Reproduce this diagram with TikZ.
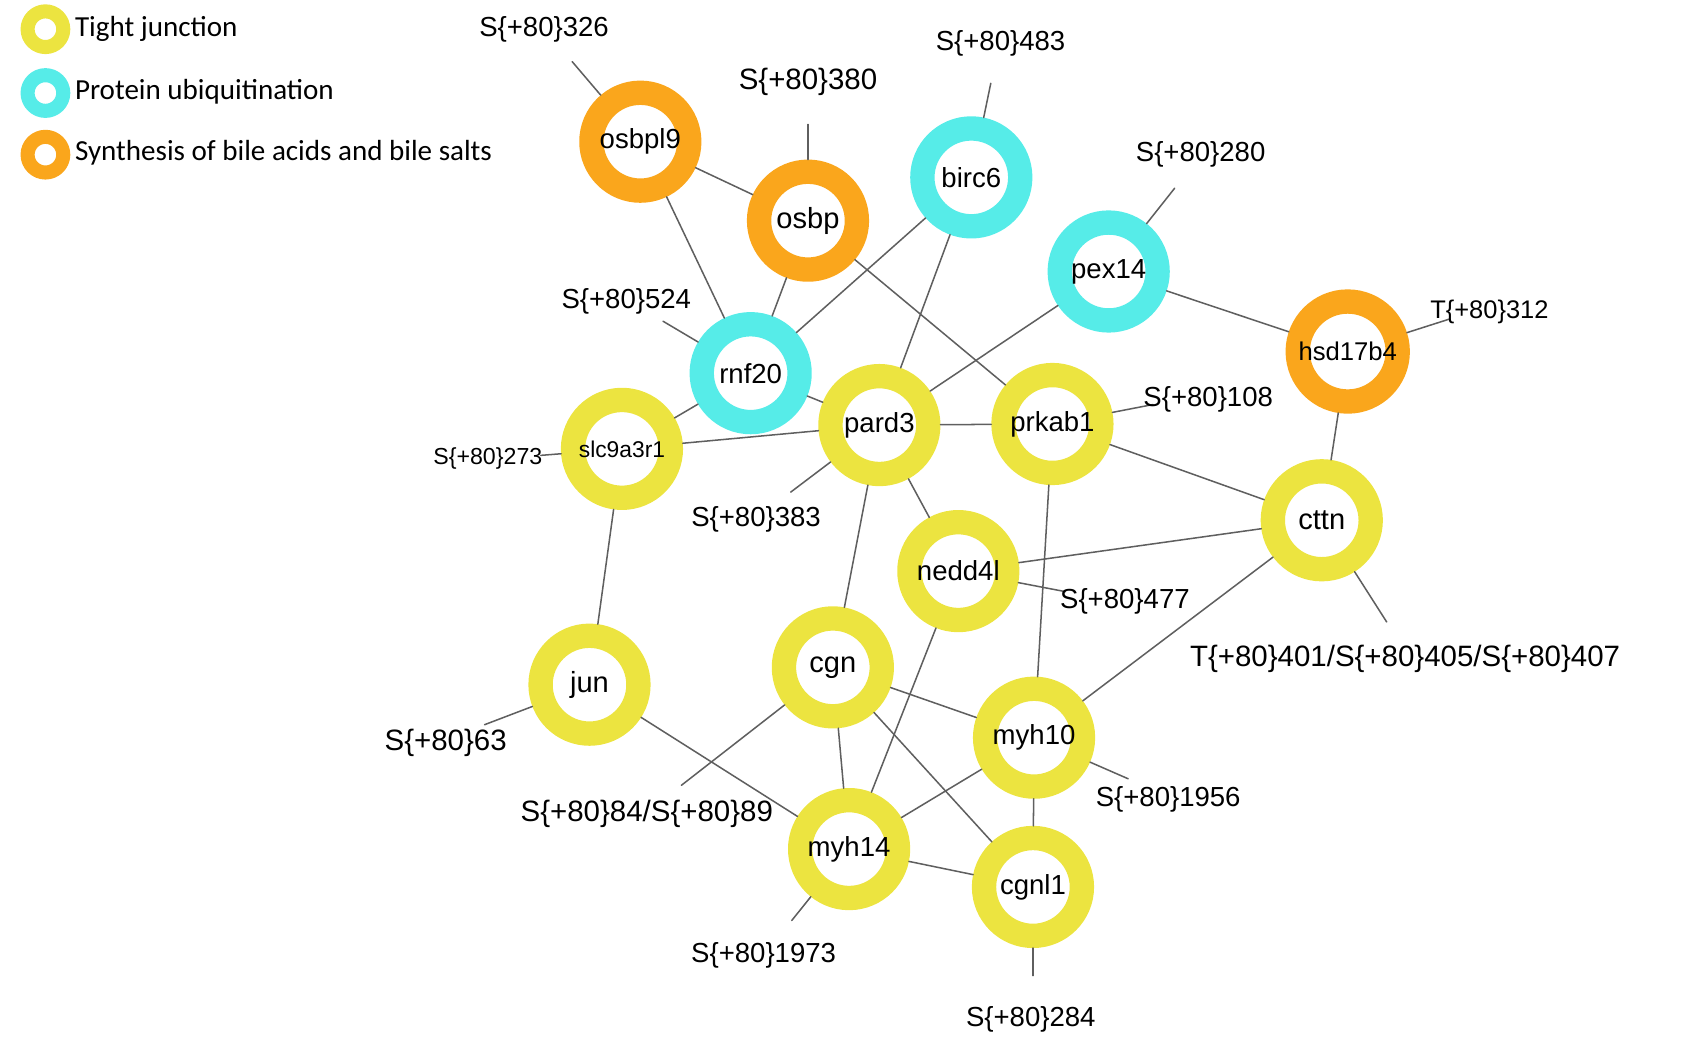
\documentclass[tikz,border=0pt]{standalone}
\usepackage{fontspec}
\setmainfont{Liberation Sans}
\newfontfamily\legfont{Carlito}
\definecolor{tjyellow}{RGB}{236,228,64}
\definecolor{ubcyan}{RGB}{86,236,232}
\definecolor{bileorange}{RGB}{250,166,28}
\definecolor{edgegray}{RGB}{95,95,95}
\begin{document}
\begin{tikzpicture}[x=0.02cm,y=-0.02cm,line join=round,line cap=round]
	%%%%%%%%%STYLES
	\tikzset{
		ring/.style={circle,draw=#1,fill=white,line width=0.45cm,minimum size=1.81cm,inner sep=0pt,font=\fontsize{14.5}{14.5}\selectfont},
		lring/.style={circle,draw=#1,fill=white,line width=0.26cm,minimum size=0.66cm,inner sep=0pt},
		lnk/.style={edgegray,line width=0.8pt},
		site/.style={inner sep=0pt,font=\fontsize{14.5}{14.5}\selectfont},
		sitebig/.style={inner sep=0pt,font=\fontsize{15.5}{15.5}\selectfont},
		sitemid/.style={inner sep=0pt,font=\fontsize{13.4}{13.4}\selectfont},
		sitesmall/.style={inner sep=0pt,font=\fontsize{12.2}{12.2}\selectfont},
		legtxt/.style={anchor=west,inner sep=0pt,font=\legfont\fontsize{15.3}{15.3}\selectfont}
	}
	\useasboundingbox(0,0)rectangle(1568,966);
	%%%%%%%%%LEGEND
	\node[lring=tjyellow](kTJ)at(42,27){};
	\node[lring=ubcyan](kUB)at(42,86){};
	\node[lring=bileorange](kBA)at(42,143){};
	\node[legtxt](tTJ)at(69,27){Tight junction};
	\node[legtxt](tUB)at(69,85){Protein ubiquitination};
	\node[legtxt](tBA)at(69,141){Synthesis of bile acids and bile salts};
	%%%%%%%%%GENES
	\node[ring=bileorange](osbpl9)at(592,131){osbpl9};
	\node[ring=bileorange,font=\fontsize{15.3}{15.3}\selectfont](osbp)at(747,204){osbp};
	\node[ring=ubcyan](birc6)at(898,164){birc6};
	\node[ring=ubcyan](pex14)at(1025,251){pex14};
	\node[ring=bileorange,font=\fontsize{13.5}{13.5}\selectfont](hsd17b4)at(1246,325){hsd17b4};
	\node[ring=ubcyan](rnf20)at(694,345){rnf20};
	\node[ring=tjyellow,font=\fontsize{12}{12}\selectfont](slc9a3r1)at(575,415){slc9a3r1};
	\node[ring=tjyellow](pard3)at(813,393){pard3};
	\node[ring=tjyellow](prkab1)at(973,392){prkab1};
	\node[ring=tjyellow,font=\fontsize{15.3}{15.3}\selectfont](cttn)at(1222,481){cttn};
	\node[ring=tjyellow](nedd4l)at(886,528){nedd4l};
	\node[ring=tjyellow,font=\fontsize{15.3}{15.3}\selectfont](jun)at(545,633){jun};
	\node[ring=tjyellow,font=\fontsize{15.3}{15.3}\selectfont](cgn)at(770,617){cgn};
	\node[ring=tjyellow](myh10)at(956,682){myh10};
	\node[ring=tjyellow](myh14)at(785,785){myh14};
	\node[ring=tjyellow](cgnl1)at(955,820){cgnl1};
	%%%%%%%%%INTERACTIONS
	\foreach \a/\b in{osbpl9/osbp,osbpl9/rnf20,osbp/rnf20,osbp/prkab1,birc6/rnf20,birc6/pard3,pex14/pard3,pex14/hsd17b4,hsd17b4/cttn,rnf20/slc9a3r1,rnf20/pard3,slc9a3r1/pard3,slc9a3r1/jun,pard3/prkab1,pard3/nedd4l,pard3/cgn,prkab1/cttn,prkab1/myh10,nedd4l/cttn,cttn/myh10,nedd4l/myh14,jun/myh14,cgn/myh10,cgn/myh14,cgn/cgnl1,myh10/myh14,myh10/cgnl1,myh14/cgnl1}
	\draw[lnk](\a)--(\b);
	%%%%%%%%%SITES
	\foreach \g/\s/\x/\y in{osbpl9/326/529/57,osbp/380/747/115,birc6/483/916/77,pex14/280/1086/174,hsd17b4/312/1340/295,rnf20/524/613/297,slc9a3r1/273/500/421,pard3/383/731/455,prkab1/108/1066/374,cttn/401/1282/575,nedd4l/477/985/547,jun/63/448/670,cgn/84/630/726,myh10/1956/1043/720,myh14/1973/732/851,cgnl1/284/955/902}{
		\coordinate(s\s)at(\x,\y);
		\draw[lnk](\g)--(s\s);
	}
	\node[site](l326)at(503,27){S\{+80\}326};
	\node[sitebig](l380)at(747,76){S\{+80\}380};
	\node[site](l483)at(925,40){S\{+80\}483};
	\node[site](l280)at(1110,143){S\{+80\}280};
	\node[sitemid](l312)at(1377,288){T\{+80\}312};
	\node[site](l524)at(579,279){S\{+80\}524};
	\node[sitesmall](l273)at(451,424){S\{+80\}273};
	\node[site](l383)at(699,480){S\{+80\}383};
	\node[site](l108)at(1117,369){S\{+80\}108};
	\node[sitebig](l401)at(1299,609){T\{+80\}401/S\{+80\}405/S\{+80\}407};
	\node[site](l477)at(1040,556){S\{+80\}477};
	\node[sitebig](l63)at(412,687){S\{+80\}63};
	\node[sitebig](l84)at(598,752){S\{+80\}84/S\{+80\}89};
	\node[site](l1956)at(1080,739){S\{+80\}1956};
	\node[site](l1973)at(706,883){S\{+80\}1973};
	\node[site](l284)at(953,942){S\{+80\}284};
\end{tikzpicture}
\end{document}
